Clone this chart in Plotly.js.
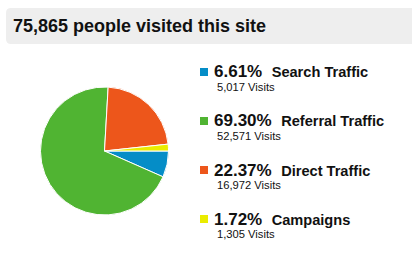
<!DOCTYPE html>
<html>
<head>
<meta charset="utf-8">
<script src="https://cdn.plot.ly/plotly-3.0.1.min.js"></script>
<style>
  html, body { margin: 0; padding: 0; background: #fff; }
  #chart { width: 412px; height: 278px; }
</style>
</head>
<body>
<div id="chart"></div>
<script>
// Traffic sources
const categories = ['Search Traffic', 'Referral Traffic', 'Direct Traffic', 'Campaigns'];
const visits = [5017, 52571, 16972, 1305];
const percents = ['6.61%', '69.30%', '22.37%', '1.72%'];
const colors = ['#058DC7', '#50B432', '#ED561B', '#EAEC00'];

const W = 412, H = 278;
const px = x => x / W;          // pixel -> paper x
const py = y => 1 - y / H;      // pixel -> paper y
const fmt = n => n.toLocaleString('en-US');
const FONT = '"Liberation Sans", Arial, Helvetica, sans-serif';

const total = visits.reduce((a, b) => a + b, 0);

const pie = {
  type: 'pie',
  labels: categories,
  values: visits,
  sort: false,
  direction: 'clockwise',
  rotation: 90,
  textinfo: 'none',
  hoverinfo: 'skip',
  showlegend: false,
  marker: { colors: colors, line: { color: '#ffffff', width: 1 } },
  domain: { x: [px(40.5), px(168.5)], y: [py(215), py(87)] }
};

// Header band with rounded left corners
const hx0 = px(6), hx1 = 1.05, hy0 = py(44), hy1 = py(8);
const rx = px(5), ry = 5 / H;
const headerPath = `M ${hx0 + rx},${hy1} L ${hx1},${hy1} L ${hx1},${hy0} L ${hx0 + rx},${hy0} ` +
  `Q ${hx0},${hy0} ${hx0},${hy0 + ry} L ${hx0},${hy1 - ry} Q ${hx0},${hy1} ${hx0 + rx},${hy1} Z`;

const shapes = [{
  type: 'path', xref: 'paper', yref: 'paper', path: headerPath,
  fillcolor: '#EEEEEE', line: { width: 0 }, layer: 'below'
}];

const annotations = [{
  xref: 'paper', yref: 'paper', x: px(11), y: py(26), xanchor: 'left', yanchor: 'middle',
  showarrow: false, text: `<b>${fmt(total)} people visited this site</b>`,
  font: { family: FONT, size: 18, color: '#111' }
}];

// Legend rows
const rowTop = 72, rowStep = 49;
categories.forEach((name, i) => {
  const cy = rowTop + i * rowStep;
  shapes.push({
    type: 'rect', xref: 'paper', yref: 'paper',
    x0: px(200), x1: px(208), y0: py(cy + 4), y1: py(cy - 4),
    fillcolor: colors[i], line: { width: 0 }
  });
  annotations.push({
    xref: 'paper', yref: 'paper', x: px(212), y: py(cy), xanchor: 'left', yanchor: 'middle',
    showarrow: false,
    text: `<b>${percents[i]}</b>  <b><span style="font-size:14.6px">${name}</span></b>`,
    font: { family: FONT, size: 17, color: '#111' }
  });
  annotations.push({
    xref: 'paper', yref: 'paper', x: px(215), y: py(cy + 15), xanchor: 'left', yanchor: 'middle',
    showarrow: false, text: `${fmt(visits[i])} Visits`,
    font: { family: FONT, size: 11.2, color: '#111' }
  });
});

const layout = {
  width: W, height: H,
  margin: { l: 0, r: 0, t: 0, b: 0 },
  paper_bgcolor: '#ffffff',
  showlegend: false,
  shapes: shapes,
  annotations: annotations
};

Plotly.newPlot('chart', [pie], layout, { displayModeBar: false, staticPlot: true });
</script>
</body>
</html>
